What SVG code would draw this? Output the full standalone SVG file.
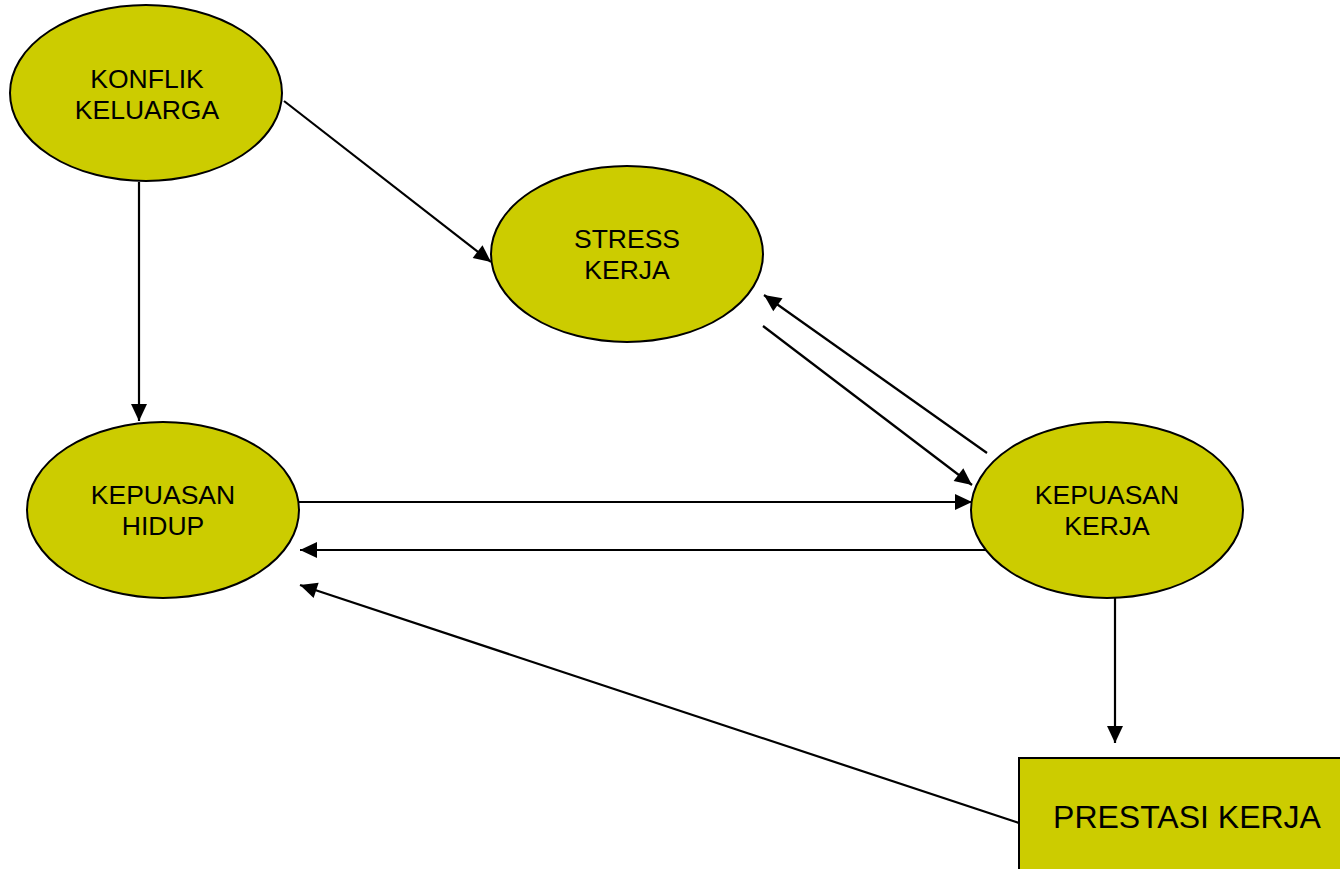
<svg xmlns="http://www.w3.org/2000/svg" width="1340" height="869" viewBox="0 0 1340 869">
<style>
.n{fill:#CCCC00;stroke:#000;stroke-width:2}
.t{font-family:"Liberation Sans",Arial,sans-serif;font-size:26.5px;fill:#000;text-anchor:middle}
.c line{stroke:#000;stroke-width:2.2;marker-end:url(#ah)}
</style>
<defs>
<marker id="ah" markerUnits="userSpaceOnUse" markerWidth="20" markerHeight="18" refX="17" refY="8" orient="auto" overflow="visible">
<path d="M0,0 L17,8 L0,16 z" fill="#000"/>
</marker>
</defs>
<rect width="1340" height="869" fill="#fff"/>
<g id="konflik">
<ellipse class="n" cx="146" cy="93" rx="136" ry="88"/>
<text class="t" x="147" y="88">KONFLIK</text>
<text class="t" x="147" y="119">KELUARGA</text>
</g>
<g id="stress">
<ellipse class="n" cx="627" cy="254" rx="136" ry="88"/>
<text class="t" x="627" y="248">STRESS</text>
<text class="t" x="627" y="279">KERJA</text>
</g>
<g id="hidup">
<ellipse class="n" cx="163" cy="510" rx="136" ry="88"/>
<text class="t" x="163" y="504">KEPUASAN</text>
<text class="t" x="163" y="535">HIDUP</text>
</g>
<g id="kerja">
<ellipse class="n" cx="1107" cy="510" rx="136" ry="88"/>
<text class="t" x="1107" y="504">KEPUASAN</text>
<text class="t" x="1107" y="535">KERJA</text>
</g>
<g id="prestasi">
<rect class="n" x="1019" y="758" width="340" height="130"/>
<text class="t" x="1187" y="828" style="font-size:32px">PRESTASI KERJA</text>
</g>
<g id="connectors" class="c">
<line x1="284" y1="101" x2="491" y2="262"/>
<line x1="139" y1="182" x2="139" y2="421"/>
<line x1="987" y1="453" x2="764" y2="295"/>
<line x1="763" y1="326" x2="972" y2="485"/>
<line x1="299" y1="502" x2="972" y2="502"/>
<line x1="986" y1="550" x2="300" y2="550"/>
<line x1="1115" y1="598" x2="1115" y2="743"/>
<line x1="1019" y1="823" x2="300" y2="585"/>
</g>
</svg>
